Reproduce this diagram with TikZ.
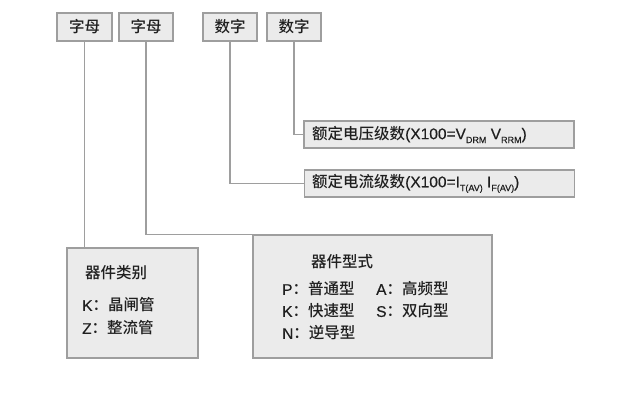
\documentclass[tikz,border=0pt]{standalone}
\usepackage{fontspec}
\setmainfont{Liberation Sans}[FakeBold=0.4,UprightFeatures={FakeBold=0.4}]
\newfontfamily\cjk{Noto Sans CJK SC Medium}
\newcommand{\sub}[1]{\raisebox{-3.8pt}{\fontsize{9}{9}\selectfont #1}}
\begin{document}
\begin{tikzpicture}[x=1pt,y=-1pt,
  lbox/.style={draw=black!38,fill=black!8,line width=1.1pt,inner sep=0pt},
  conn/.style={draw=black!38,line width=1.1pt},
  txt/.style={inner sep=0pt,anchor=west,text=black!88,font=\fontsize{15.5}{17}\selectfont}]
\useasboundingbox[fill=white] (0,0) rectangle (624,409);
% top boxes
\node[lbox,minimum width=55pt,minimum height=28pt,font=\cjk\fontsize{15.5}{17}\selectfont,text=black!88] (b1) at (84.5,27) {字母};
\node[lbox,minimum width=54pt,minimum height=28pt,font=\cjk\fontsize{15.5}{17}\selectfont,text=black!88] (b2) at (146,27) {字母};
\node[lbox,minimum width=54pt,minimum height=28pt,font=\cjk\fontsize{15.5}{17}\selectfont,text=black!88] (b3) at (230,27) {数字};
\node[lbox,minimum width=54pt,minimum height=28pt,font=\cjk\fontsize{15.5}{17}\selectfont,text=black!88] (b4) at (294,27) {数字};
% right boxes
\node[lbox,minimum width=270pt,minimum height=27pt] (vb) at (439,134.5) {};
\node[lbox,minimum width=270pt,minimum height=27pt] (ib) at (439.5,183.5) {};
\node[txt] (vt) at (312,134.5) {{\cjk 额定电压级数}(X100=V\sub{DRM} V\sub{RRM})};
\node[txt] (it) at (312,183.5) {{\cjk 额定电流级数}(X100=I\sub{T(AV)} I\sub{F(AV)})};
% bottom boxes
\node[lbox,minimum width=131pt,minimum height=110pt] (kb) at (132.5,303) {};
\node[lbox,minimum width=239pt,minimum height=123pt] (fb) at (372.5,296.5) {};
\node[txt] (k0) at (85,273) {\cjk 器件类别};
\node[txt] (k1) at (82,305) {K{\cjk ：晶闸管}};
\node[txt] (k2) at (82,328) {Z{\cjk ：整流管}};
\node[txt,anchor=center] (f0) at (342,262) {\cjk 器件型式};
\node[txt] (f1) at (282,289) {P{\cjk ：普通型}};
\node[txt] (f2) at (376,289) {A{\cjk ：高频型}};
\node[txt] (f3) at (282,311) {K{\cjk ：快速型}};
\node[txt] (f4) at (376,311) {S{\cjk ：双向型}};
\node[txt] (f5) at (282,333) {N{\cjk ：逆导型}};
% connectors
\draw[conn] (b1.south) -- (b1.south |- kb.north);
\draw[conn] (b2.south) |- (fb.north west);
\draw[conn] (b3.south) |- (ib.west);
\draw[conn] (b4.south) |- (vb.west);
\end{tikzpicture}
\end{document}
